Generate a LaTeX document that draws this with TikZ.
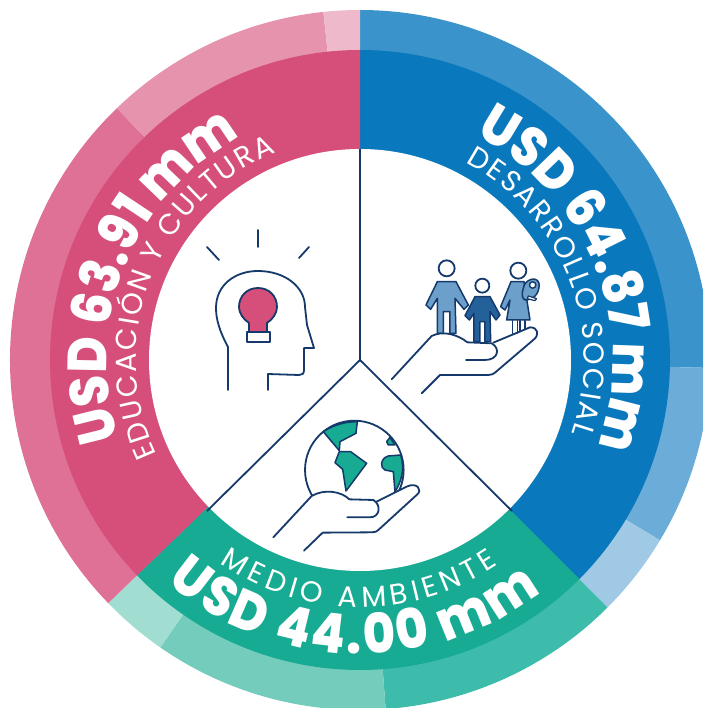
\documentclass[tikz,border=0pt]{standalone}
\usepackage{fontspec}
\usetikzlibrary{decorations.text}
\newfontfamily\labelfam{Poppins}
\newfontfamily\bigfam[FakeStretch=0.9]{Poppins ExtraBold}
\newcommand{\bigtxt}{\bigfam\fontsize{55}{60}\selectfont\color{white}}
\newcommand{\smalltxt}{\labelfam\fontsize{29}{34}\selectfont\color{white}}
\definecolor{pinkA}{HTML}{D54F7A}\definecolor{pinkB}{HTML}{DF7096}\definecolor{pinkC}{HTML}{E693AE}\definecolor{pinkD}{HTML}{EEB9CB}
\definecolor{blueA}{HTML}{0978BC}\definecolor{blueB}{HTML}{3B93CB}\definecolor{blueC}{HTML}{6BADD8}\definecolor{blueD}{HTML}{9FC9E4}
\definecolor{greenA}{HTML}{16AB92}\definecolor{greenB}{HTML}{3EBCAB}\definecolor{greenC}{HTML}{74CCBC}\definecolor{greenD}{HTML}{A2DDD2}
\definecolor{navy}{HTML}{14396A}\definecolor{famA}{HTML}{6C9FC9}\definecolor{famB}{HTML}{24619B}
\newcommand{\sector}[4]{\fill[#1] (0,0) -- (#2:#4pt) arc[start angle=#2,end angle=#3,radius=#4pt] -- cycle;}
\newcommand{\curved}[5]{\path[decorate,decoration={text along path,text={|#5|#1},text align={fit to path}}] (#2:#4pt) arc[start angle=#2,end angle=#3,radius=#4pt];}
\tikzset{icon/.style={draw=navy,line width=1.8pt,line cap=round,line join=round}}
\begin{document}
\begin{tikzpicture}[x=1pt,y=1pt]
\useasboundingbox (-360,-348) rectangle (343,360);
\clip (-360,-348) rectangle (343,360);
% outer ring
\sector{blueB}{90}{-1.3}{350}
\sector{blueC}{-1.3}{-31}{350}
\sector{blueD}{-31}{-45}{350}
\sector{greenB}{-45}{-85.8}{350}
\sector{greenC}{-85.8}{-124.8}{350}
\sector{greenD}{-124.8}{-136}{350}
\sector{pinkB}{224}{134}{350}
\sector{pinkC}{134}{96}{350}
\sector{pinkD}{96}{90}{350}
% main ring
\sector{blueA}{90}{-45}{310}
\sector{greenA}{-45}{-136}{310}
\sector{pinkA}{224}{90}{310}
\fill[white] (0,0) circle[radius=211pt];
% curved labels
\curved{USD 64.87 mm}{63}{-20}{253}{\bigtxt}
\curved{DESARROLLO SOCIAL}{62}{-19}{224}{\smalltxt}
\curved{USD 63.91 mm}{198}{118.5}{253}{\bigtxt}
\curved{EDUCACIÓN Y CULTURA}{205}{112}{224}{\smalltxt}
\curved{MEDIO AMBIENTE}{235.5}{304}{247}{\smalltxt}
\curved{USD 44.00 mm}{229}{308}{294}{\bigtxt}
\begin{scope}[shift={(-360,360)},yscale=-1]
% dividers
\coordinate (cen) at (360,360);
\coordinate (dt) at (360,149);
\coordinate (dl) at (207,511);
\coordinate (dr) at (512,511);
\draw[navy,line width=1.8pt] (dt) -- (cen) (dl) -- (cen) -- (dr);
% head icon
\draw[icon] (258,230) -- (258,247) (207,247) -- (219,260) (309,247) -- (299,258);
\draw[icon] (228,390) -- (228,347) .. controls (220,332) and (216,320) .. (216,308)
 .. controls (216,285) and (235,271) .. (258,271) .. controls (285,271) and (305,287) .. (305,307)
 -- (307,325) -- (314,348) -- (304,348) -- (304,370) .. controls (304,374) and (302,375) .. (299,375)
 -- (268,374) -- (268,390);
\draw[icon,fill=pinkA] (249,332) -- (249,323) .. controls (243,319) and (239,313) .. (239,307)
 .. controls (239,296) and (247,288) .. (258,288) .. controls (269,288) and (277,296) .. (277,307)
 .. controls (277,313) and (273,319) .. (267,323) -- (267,332) -- cycle;
\draw[icon,fill=white] (247,332) rectangle (270,342);
% family icon
\begin{scope}[shift={(380,250)},x=0.3333pt,y=0.3333pt]
\draw[icon,fill=white] (200,55) circle[radius=8pt];
\draw[icon,fill=white] (307,107) circle[radius=7pt];
\draw[icon,fill=white] (415,62) circle[radius=8pt];
\draw[icon,fill=famA,line width=1.5pt] (172,95) -- (228,95) -- (265,165) -- (252,178) -- (225,145) -- (228,250) -- (210,250) -- (210,185) -- (190,185) -- (190,250) -- (172,250) -- (172,145) -- (152,178) -- (138,165) -- cycle;
\draw[icon,fill=famB,line width=1.5pt] (285,140) -- (330,140) -- (360,195) -- (348,210) -- (330,185) -- (332,275) -- (315,275) -- (315,215) -- (300,215) -- (300,275) -- (282,275) -- (282,190) -- (268,210) -- (255,197) -- cycle;
\draw[icon,line width=1.5pt] (397,212) -- (397,250) (412,212) -- (412,250) (420,212) -- (420,245) (435,212) -- (435,238);
\draw[icon,fill=famA,line width=1.5pt] (393,95) -- (432,95) -- (450,210) -- (380,210) -- (390,150) -- (375,180) -- (362,170) -- cycle;
\draw[icon,fill=famA,line width=1.5pt] (430,115) .. controls (432,90) and (470,75) .. (477,100) .. controls (480,125) and (465,150) .. (435,150) .. controls (425,145) and (425,130) .. (430,115) -- cycle;
\draw[icon,fill=white,line width=1.4pt] (458,105) circle[radius=3.2pt];
\draw[icon,fill=white,line width=1.2pt] (445,138) -- (470,146) -- (465,152) -- (442,146) -- cycle;
\draw[icon,fill=white] (35,388) -- (155,258) .. controls (190,240) and (235,255) .. (262,277) -- (335,280)
 .. controls (362,295) and (355,330) .. (315,330) -- (258,330);
\draw[icon] (340,278) -- (450,232) .. controls (475,232) and (478,255) .. (462,268) -- (345,368) .. controls (340,372) and (335,375) .. (325,375) -- (180,375) -- (125,430);
\end{scope}
% globe icon
\begin{scope}[shift={(260,410)},x=0.3333pt,y=0.3333pt]
\draw[icon,fill=white] (283,180) circle[radius=49.3pt];
\draw[icon,fill=greenA,line width=1.5pt] (190,65) .. controls (220,45) and (255,35) .. (292,35) -- (288,70) -- (240,95) -- (238,122) -- cycle;
\draw[icon,fill=greenA,line width=1.5pt] (238,125) -- (272,125) -- (320,160) -- (258,243) -- (248,178) -- (225,158) -- cycle;
\draw[icon,fill=greenA,line width=1.5pt] (422,135) -- (385,138) .. controls (360,145) and (360,175) .. (375,180) -- (400,185) -- (405,245) .. controls (425,215) and (435,175) .. (422,135) -- cycle;
\draw[icon,fill=greenA,line width=1.5pt] (380,95) -- (390,82) -- (405,105) -- (385,105) -- cycle;
\fill[white] (155,258) .. controls (200,235) and (250,250) .. (268,268) -- (350,272) -- (445,228) -- (480,240) -- (345,365) -- (188,368) -- (100,380) -- cycle;
\draw[icon] (40,382) -- (155,258) .. controls (195,235) and (245,245) .. (268,268) -- (340,270)
 .. controls (365,285) and (360,322) .. (330,322) -- (262,322);
\draw[icon] (350,275) -- (440,230) .. controls (470,215) and (490,240) .. (470,255) -- (355,360) .. controls (350,365) and (345,367) .. (335,367) -- (188,368) -- (132,422);
\end{scope}
\end{scope}
\end{tikzpicture}
\end{document}
